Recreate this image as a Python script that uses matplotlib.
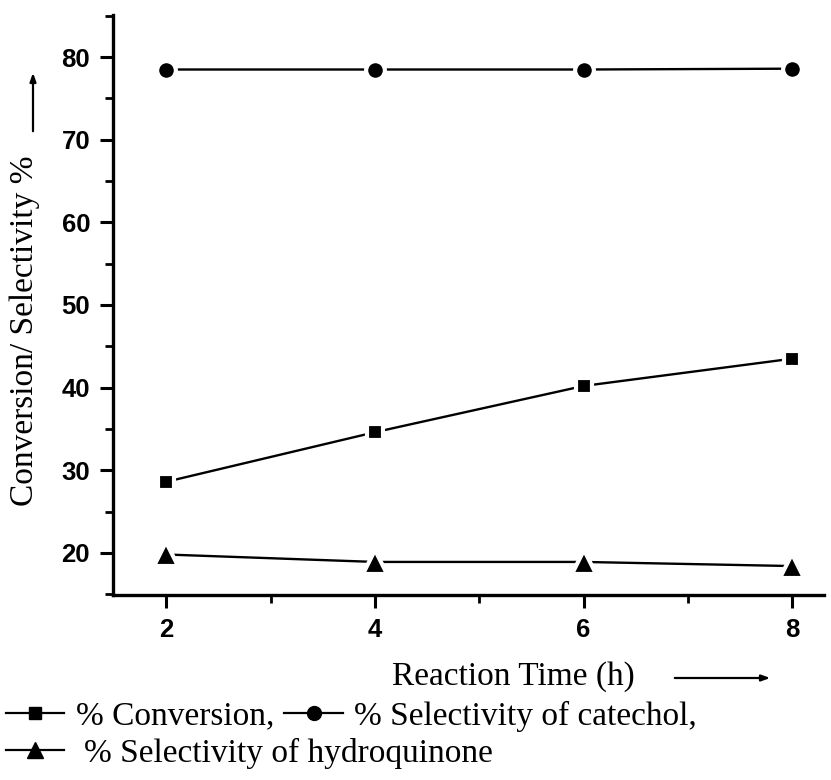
import matplotlib
matplotlib.use("Agg")
import matplotlib.pyplot as plt
from matplotlib.ticker import MultipleLocator
from matplotlib.lines import Line2D

# reaction time (h)
time_h = [2, 4, 6, 8]

# percentages per run
conversion = [28.6, 34.6, 40.2, 43.5]
sel_catechol = [78.5, 78.5, 78.5, 78.6]
sel_hydroquinone = [19.8, 18.9, 18.9, 18.4]

serif = "Liberation Serif"
sans = "Liberation Sans"

fig = plt.figure(figsize=(8.31, 7.80), dpi=100)
ax = fig.add_axes([0.136, 0.2372, 0.855, 0.7436])

# white marker edges leave a small gap between line and symbol
style = dict(color="black", lw=1.7, markeredgecolor="white", markeredgewidth=3)
ax.plot(time_h, conversion, marker="s", ms=11.5, **style)
ax.plot(time_h, sel_catechol, marker="o", ms=13.5, **style)
ax.plot(time_h, sel_hydroquinone, marker="^", ms=17, **style)

ax.set_xlim(1.49, 8.3)
ax.set_ylim(14.9, 85.1)
ax.xaxis.set_major_locator(MultipleLocator(2))
ax.xaxis.set_minor_locator(MultipleLocator(1))
ax.yaxis.set_major_locator(MultipleLocator(10))
ax.yaxis.set_minor_locator(MultipleLocator(5))
ax.set_yticks([20, 30, 40, 50, 60, 70, 80])

for side in ["top", "right"]:
    ax.spines[side].set_visible(False)
for side in ["left", "bottom"]:
    ax.spines[side].set_linewidth(2.4)

ax.tick_params(which="major", direction="out", length=9.5, width=2.2, pad=7)
ax.tick_params(which="minor", direction="out", length=6, width=2.0)
for lab in ax.get_xticklabels() + ax.get_yticklabels():
    lab.set_fontfamily(sans)
    lab.set_fontweight("bold")
    lab.set_fontsize(18.5)

# axis titles with direction arrows
fig.text(25 / 831, 1 - 331 / 780, "Conversion/ Selectivity %", rotation=90,
         ha="center", va="center", fontsize=24, family=serif)
fig.text(513 / 831, 1 - 677 / 780, "Reaction Time (h)",
         ha="center", va="center", fontsize=24, family=serif)
arrow = dict(arrowstyle="-|>,head_length=0.5,head_width=0.18", color="black", lw=1.6)
ax.annotate("", xy=(33, 780 - 70), xytext=(33, 780 - 134),
            xycoords="figure pixels", textcoords="figure pixels", arrowprops=arrow)
ax.annotate("", xy=(773, 780 - 678), xytext=(672, 780 - 678),
            xycoords="figure pixels", textcoords="figure pixels", arrowprops=arrow)

# legend below the plot
hstyle = dict(color="black", lw=1.6)
h_conv = Line2D([], [], marker="s", ms=9, **hstyle)
h_cat = Line2D([], [], marker="o", ms=10, **hstyle)
h_hq = Line2D([], [], marker="^", ms=12, **hstyle)
leg_kw = dict(frameon=False, handlelength=1.75, borderpad=0, borderaxespad=0,
              columnspacing=0.3, prop=dict(family=serif, size=24))
fig.legend([h_conv, h_cat], ["% Conversion,", "% Selectivity of catechol,"],
           ncol=2, loc="center left", handletextpad=0.35,
           bbox_to_anchor=(6 / 831, 1 - 716 / 780), **leg_kw)
fig.legend([h_hq], ["% Selectivity of hydroquinone"],
           loc="center left", handletextpad=0.6,
           bbox_to_anchor=(6 / 831, 1 - 753 / 780), **leg_kw)

fig.savefig("out.png", dpi=100)
